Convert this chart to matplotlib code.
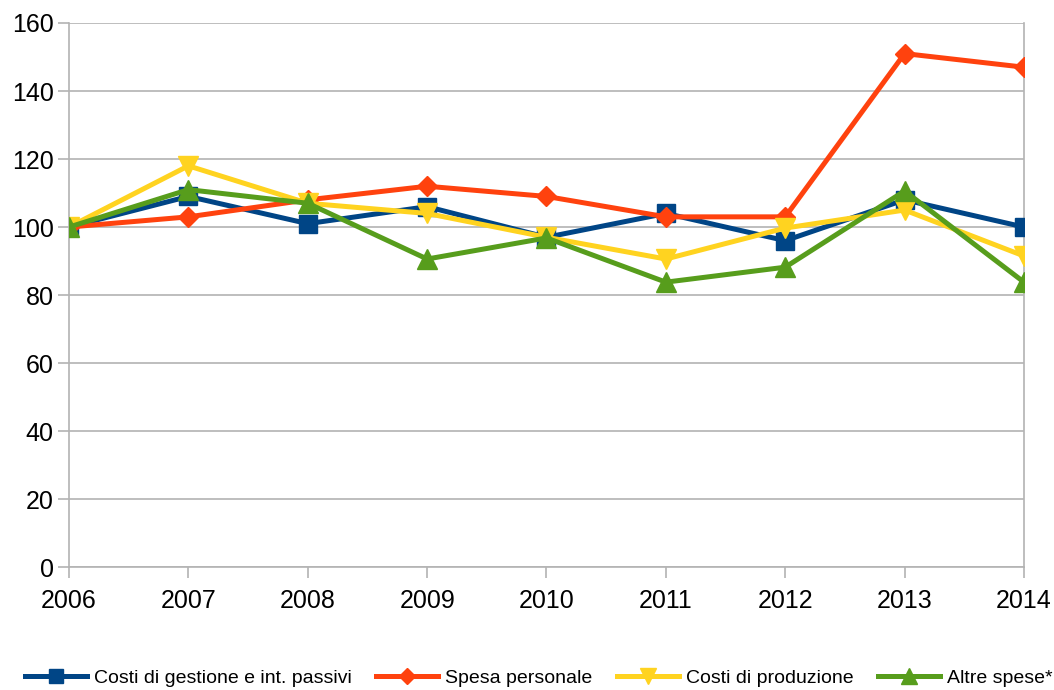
import matplotlib
matplotlib.use("Agg")
import matplotlib.pyplot as plt

plt.rcParams['font.family'] = ['Liberation Sans', 'DejaVu Sans']

years = [2006, 2007, 2008, 2009, 2010, 2011, 2012, 2013, 2014]
costi_gestione = [100, 109, 101, 106, 97, 104, 96, 108, 100]
spesa_personale = [100, 103, 108, 112, 109, 103, 103, 151, 147]
costi_produzione = [100, 118, 107, 104, 97, 90.6, 99.7, 105, 91.5]
altre_spese = [100, 111, 107, 90.6, 96.8, 83.8, 88.2, 110.6, 83.8]
yticks = [0, 20, 40, 60, 80, 100, 120, 140, 160]

fig = plt.figure(figsize=(10.54, 6.90), dpi=100)
ax = fig.add_axes([0.0655, 0.178, 0.9060, 0.7887])

ax.plot(years, costi_gestione, color='#004586', lw=3.6, marker='s', ms=13,
        label='Costi di gestione e int. passivi', zorder=3)
ax.plot(years, spesa_personale, color='#ff420e', lw=3.6, marker='D', ms=10,
        label='Spesa personale', zorder=4)
ax.plot(years, costi_produzione, color='#ffd320', lw=3.6, marker='v', ms=15,
        label='Costi di produzione', zorder=5)
ax.plot(years, altre_spese, color='#579d1c', lw=3.6, marker='^', ms=15,
        label='Altre spese*', zorder=6)

ax.set_xlim(years[0], years[-1])
ax.set_ylim(0, 160)
ax.set_xticks(years)
ax.set_yticks(yticks)
ax.tick_params(axis='both', labelsize=18, color='#b3b3b3', length=8, width=1.2)
ax.tick_params(axis='x', pad=8)
ax.tick_params(axis='y', pad=3)
ax.grid(axis='y', color='#b3b3b3', lw=1.2)
ax.set_axisbelow(True)
for s in ['left', 'right', 'bottom']:
    ax.spines[s].set_color('#b3b3b3')
    ax.spines[s].set_linewidth(1.2)
ax.spines['top'].set_visible(False)

leg = fig.legend(loc='center', bbox_to_anchor=(0.511, 0.0174), ncol=4,
                 frameon=False, fontsize=14, handlelength=3.2,
                 columnspacing=1.25, handletextpad=0.35, markerscale=0.8)

fig.savefig('out.png', dpi=100)
